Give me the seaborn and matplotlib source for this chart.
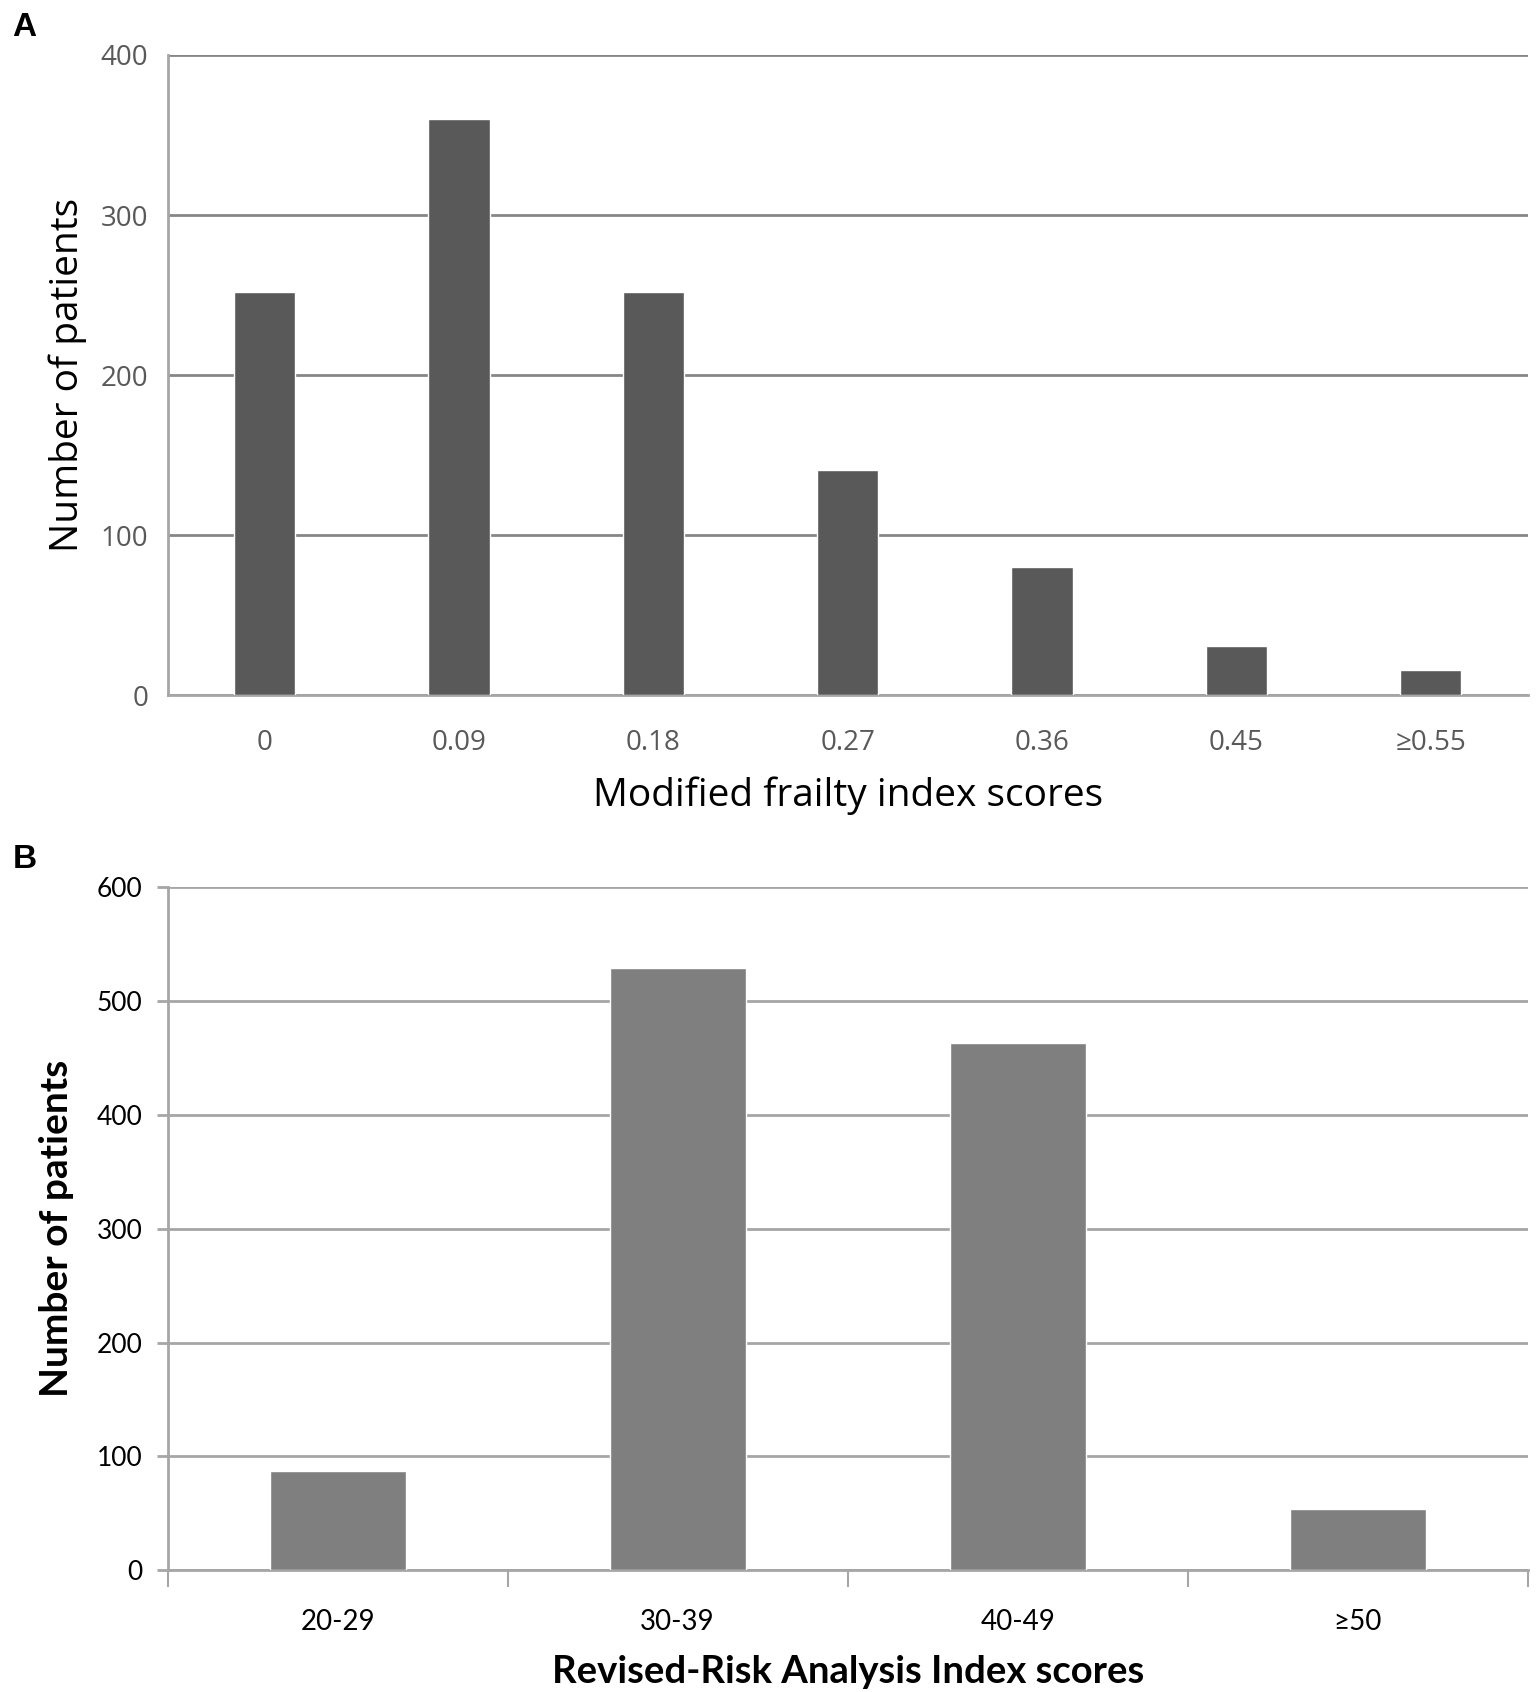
import matplotlib
matplotlib.use("Agg")
import matplotlib.pyplot as plt
import seaborn as sns
import pandas as pd

# Panel A: modified frailty index
mfi_scores = ["0", "0.09", "0.18", "0.27", "0.36", "0.45", "≥0.55"]
mfi_patients = [252, 360, 252, 141, 80, 31, 16]

# Panel B: revised risk analysis index
rai_scores = ["20-29", "30-39", "40-49", "≥50"]
rai_patients = [87, 529, 463, 54]

sns.set_theme(style="white")
plt.rcParams['font.family'] = ['Open Sans', 'DejaVu Sans']
plt.rcParams['text.color'] = 'black'
plt.rcParams['axes.labelcolor'] = 'black'

fig = plt.figure(figsize=(15.37, 16.92), dpi=100)
ax_a = fig.add_axes([0.109, 0.589, 0.885, 0.3785])
ax_b = fig.add_axes([0.109, 0.072, 0.885, 0.4035])

# ---- A ----
df_a = pd.DataFrame({"score": mfi_scores, "n": mfi_patients})
sns.barplot(data=df_a, x="score", y="n", order=mfi_scores, color="#595959",
            saturation=1, width=0.316, ax=ax_a, zorder=3)
ax_a.set_ylim(0, 400)
ax_a.set_xlim(-0.5, len(mfi_scores) - 0.5)
ax_a.set_yticks([0, 100, 200, 300, 400])
ax_a.yaxis.grid(True, color="#868686", linewidth=2)
ax_a.set_axisbelow(True)
for s in ["top", "right"]:
    ax_a.spines[s].set_visible(False)
for s in ["left", "bottom"]:
    ax_a.spines[s].set_color("#a6a6a6")
    ax_a.spines[s].set_linewidth(2)
ax_a.tick_params(axis="both", length=0, labelsize=20, labelcolor="#595959",
                 pad=14)
ax_a.tick_params(axis="x", pad=24)
ax_a.set_xlabel("Modified frailty index scores", fontsize=28, labelpad=14)
ax_a.set_ylabel("Number of patients", fontsize=28, labelpad=10)
fig.text(0.008, 0.984, "A", fontsize=24, fontweight="bold", va="center",
         family=['Liberation Sans', 'DejaVu Sans'])

# ---- B ----
df_b = pd.DataFrame({"score": rai_scores, "n": rai_patients})
sns.barplot(data=df_b, x="score", y="n", order=rai_scores, color="#7f7f7f",
            saturation=1, width=0.40, ax=ax_b, zorder=3)
ax_b.set_ylim(0, 600)
ax_b.set_xlim(-0.5, len(rai_scores) - 0.5)
ax_b.set_yticks(range(0, 601, 100))
ax_b.yaxis.grid(True, color="#a6a6a6", linewidth=2)
ax_b.set_axisbelow(True)
for s in ["top", "right"]:
    ax_b.spines[s].set_visible(False)
for s in ["left", "bottom"]:
    ax_b.spines[s].set_color("#a6a6a6")
    ax_b.spines[s].set_linewidth(2)
ax_b.tick_params(axis="y", length=8, width=2, color="#a6a6a6", left=True,
                 labelsize=19, labelcolor="black", pad=10)
# category boundary ticks on x axis
ax_b.set_xticks([i - 0.5 for i in range(len(rai_scores) + 1)], minor=True)
ax_b.tick_params(axis="x", which="minor", length=12, width=1.5,
                 color="#a6a6a6", bottom=True, direction="out")
ax_b.tick_params(axis="x", which="major", length=0, labelsize=20,
                 labelcolor="black", pad=28)
for lbl in ax_b.get_xticklabels() + ax_b.get_yticklabels():
    lbl.set_family(['Lato', 'DejaVu Sans'])
ax_b.set_xlabel("Revised-Risk Analysis Index scores", fontsize=27.5,
                fontweight="bold", labelpad=14, family=['Lato', 'DejaVu Sans'])
ax_b.set_ylabel("Number of patients", fontsize=28, fontweight="bold",
                labelpad=16, family=['Lato', 'DejaVu Sans'])
fig.text(0.008, 0.492, "B", fontsize=24, fontweight="bold", va="center",
         family=['Liberation Sans', 'DejaVu Sans'])

fig.savefig("out.png", dpi=100)
